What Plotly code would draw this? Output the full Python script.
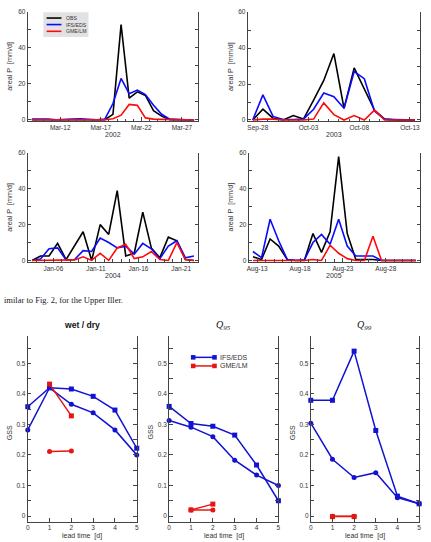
import plotly.graph_objects as go

W, H = 431, 542

# ---------------- data: top (daily areal precipitation, mm/d) ----------------
dates_2002 = [f"2002-03-{d:02d} 12:00" for d in range(8, 29)]
obs_2002 = [0, 0, 0, 0, 0, 0, 0, 0, 0, 0, 3, 53, 12, 15.5, 13.5, 5, 2, 0, 0, 0, 0]
ifs_2002 = [0.3, 0.5, 0.3, 0, 0, 0.3, 0.5, 0.3, 0, 0.3, 9, 23, 14.5, 16.5, 14, 8, 3, 0.3, 0, 0, 0]
gme_2002 = [0, 0, 0, 0, 0, 0, 0, 0, 0, 0, 0.5, 2.5, 8.5, 8, 1, 0.3, 0.2, 0, 0, 0, 0]
ticks_2002 = ["2002-03-12", "2002-03-17", "2002-03-22", "2002-03-27"]

dates_2003 = [f"2003-09-{d:02d} 12:00" for d in range(27, 31)] + [f"2003-10-{d:02d} 12:00" for d in range(1, 14)]
obs_2003 = [0, 6, 1, 0, 2.5, 0.5, 11, 22, 37, 6.5, 29, 17, 5.5, 0.5, 0, 0, 0]
ifs_2003 = [0, 14, 2, 0.3, 0.3, 0.5, 6, 15, 13, 6.5, 27, 23, 5, 0.5, 0.3, 0, 0]
gme_2003 = [0, 0.5, 0.5, 0, 0, 0, 0.5, 9.5, 3, 0, 2.5, 0, 5.5, 0, 0, 0, 0]
ticks_2003 = ["2003-09-28", "2003-10-03", "2003-10-08", "2003-10-13"]

dates_2004 = [f"2004-01-{d:02d} 12:00" for d in range(3, 23)]
obs_2004 = [0, 2.5, 2.5, 9.5, 0.5, 8, 16, 0, 20, 14.5, 39, 2.5, 4, 27, 7, 1.5, 13, 11, 0.5, 0]
ifs_2004 = [0, 0.8, 6.5, 7, 0.3, 0.5, 5.5, 5, 12.5, 10, 7, 8, 3.5, 9.5, 6.5, 1, 8, 11, 1.5, 2.5]
gme_2004 = [0, 0, 0, 0, 0, 0.3, 2, 0, 4, 0, 7, 9, 1, 2, 5, 0.5, 0, 10, 0.5, 0]
ticks_2004 = ["2004-01-06", "2004-01-11", "2004-01-16", "2004-01-21"]

dates_2005 = [f"2005-08-{d:02d} 12:00" for d in range(12, 32)]
obs_2005 = [2, 0.5, 12, 8, 0.5, 0, 0, 15, 4.5, 16, 58, 15, 0.5, 0.5, 0.5, 0, 0, 0, 0, 0]
ifs_2005 = [5, 1.5, 23, 11, 0.5, 0, 0.3, 10, 14.5, 9, 23, 8, 2.5, 2.3, 2.5, 0, 0, 0, 0, 0]
gme_2005 = [0, 0, 0, 0, 0, 0, 0, 0.5, 0, 8.5, 4, 1, 0, 0, 13.5, 0, 0, 0, 0, 0]
ticks_2005 = ["2005-08-13", "2005-08-18", "2005-08-23", "2005-08-28"]

years = ["2002", "2003", "2004", "2005"]
series_names = ["OBS", "IFS/EDS", "GME/LM"]

# ---------------- data: bottom (GSS vs lead time) ----------------
lead = [0, 1, 2, 3, 4, 5]
lead_gme = [1, 2]
wet_ifs_sq = [0.358, 0.42, 0.416, 0.392, 0.347, 0.222]
wet_ifs_ci = [0.282, 0.42, 0.366, 0.338, 0.282, 0.200]
wet_gme_sq = [0.432, 0.328]
wet_gme_ci = [0.211, 0.213]
q95_ifs_sq = [0.359, 0.303, 0.294, 0.265, 0.167, 0.050]
q95_ifs_ci = [0.313, 0.291, 0.260, 0.183, 0.134, 0.100]
q95_gme_sq = [0.020, 0.039]
q95_gme_ci = [0.020, 0.020]
q99_ifs_sq = [0.379, 0.379, 0.540, 0.280, 0.065, 0.040]
q99_ifs_ci = [0.304, 0.186, 0.126, 0.142, 0.060, 0.040]
q99_gme_sq = [-0.002, -0.002]
q99_gme_ci = [-0.001, -0.001]
panel_titles = ["<b>wet / dry</b>", "<i>Q</i><sub><i>95</i></sub>", "<i>Q</i><sub><i>99</i></sub>"]

FONT = "Liberation Sans, Arial, sans-serif"
SERIF = "Liberation Serif, Times New Roman, serif"
AX = "#444444"
TXT = "#333333"
BLACK, BLUE, RED = "#000000", "#0a0aff", "#ff0a0a"
BLUE2, RED2 = "#1212d2", "#e81414"


def xd(a, b):
    return [a / W, b / W]


def yd(top, bottom):
    return [1 - bottom / H, 1 - top / H]


fig = go.Figure()
layout = dict(width=W, height=H, margin=dict(l=0, r=0, t=0, b=0),
              paper_bgcolor="white", plot_bgcolor="white", showlegend=False,
              font=dict(family=FONT, size=6.5, color=TXT))

top_panels = [
    (dates_2002, obs_2002, ifs_2002, gme_2002, ticks_2002, (26, 198), (8, 117), ("2002-03-08", "2002-03-29")),
    (dates_2003, obs_2003, ifs_2003, gme_2003, ticks_2003, (248, 422), (8.3, 117.3), ("2003-09-27", "2003-10-14")),
    (dates_2004, obs_2004, ifs_2004, gme_2004, ticks_2004, (26, 198), (150.7, 259.3), ("2004-01-03", "2004-01-23")),
    (dates_2005, obs_2005, ifs_2005, gme_2005, ticks_2005, (249, 422), (150.7, 259.3), ("2005-08-12", "2005-09-01")),
]

annotations = []
shapes = []
ymin_top = -0.8
for i, (dts, obs, ifs, gme, tks, (xa, xb), (ytop, yzero), rng) in enumerate(top_panels):
    n = i + 1
    sfx = "" if n == 1 else str(n)
    s = (yzero - ytop) / 60.0
    ybot = yzero - ymin_top * s
    for vals, col in ((obs, BLACK), (ifs, BLUE), (gme, RED)):
        fig.add_trace(go.Scatter(x=dts, y=vals, mode="lines", line=dict(color=col, width=1.6),
                                 xaxis="x" + sfx, yaxis="y" + sfx))
    layout["xaxis" + sfx] = dict(domain=xd(xa, xb), range=list(rng), type="date", anchor="y" + sfx,
                                 tickvals=tks, tickformat="%b-%d", ticks="inside", ticklen=4,
                                 tickcolor=AX, showline=True, linecolor=AX, linewidth=1,
                                 showgrid=False, zeroline=False, tickfont=dict(size=6.5, color=TXT),
                                 minor=dict(dtick=86400000, tick0=rng[0], ticks="inside", ticklen=2.5,
                                            tickcolor=AX, showgrid=False))
    layout["yaxis" + sfx] = dict(domain=yd(ytop, ybot), range=[ymin_top, 60], anchor="x" + sfx,
                                 tickvals=[0, 20, 40, 60], ticks="inside", ticklen=3.5, tickcolor=AX,
                                 showline=True, linecolor=AX, linewidth=1, mirror="ticks",
                                 showgrid=False, zeroline=False, tickfont=dict(size=6.5, color=TXT),
                                 minor=dict(tickvals=[10, 30, 50], ticks="inside", ticklen=3.5,
                                            tickcolor=AX, showgrid=False))
    annotations.append(dict(text=years[i], x=((xa + xb) / 2) / W, y=1 - (yzero + 15) / H,
                            xref="paper", yref="paper", showarrow=False, xanchor="center",
                            yanchor="middle", font=dict(size=7, color=TXT, family=FONT)))
    annotations.append(dict(text="areal P\u00a0 [mm/d]", x=(xa - 18) / W, y=1 - ((ytop + yzero) / 2) / H,
                            xref="paper", yref="paper", showarrow=False, textangle=-90,
                            xanchor="center", yanchor="middle", font=dict(size=7.2, color=TXT, family=FONT)))

# top legend key box
shapes.append(dict(type="rect", xref="paper", yref="paper", x0=41.7 / W, x1=87.3 / W,
                   y0=1 - 33.3 / H, y1=1 - 8.3 / H, fillcolor="#e2e2e2", line=dict(width=0), layer="above"))
for name, col, yy in zip(series_names, (BLACK, BLUE, RED), (14.2, 20.8, 27.6)):
    shapes.append(dict(type="line", xref="paper", yref="paper", x0=45 / W, x1=60 / W,
                       y0=1 - yy / H, y1=1 - yy / H, line=dict(color=col, width=1.6), layer="above"))
    annotations.append(dict(text=name, x=63 / W, y=1 - yy / H, xref="paper", yref="paper",
                            showarrow=False, xanchor="left", yanchor="middle",
                            font=dict(size=5.2, color=TXT, family=FONT)))

# caption
annotations.append(dict(text="imilar to Fig. 2, for the Upper Iller.", x=0, y=1 - 299 / H,
                        xref="paper", yref="paper", showarrow=False, xanchor="left", yanchor="middle",
                        font=dict(size=8.5, color="#222222", family=SERIF)))

# ---------------- bottom panels ----------------
bottom = [
    (wet_ifs_sq, wet_ifs_ci, wet_gme_sq, wet_gme_ci, (26, 136)),
    (q95_ifs_sq, q95_ifs_ci, q95_gme_sq, q95_gme_ci, (168.7, 279)),
    (q99_ifs_sq, q99_ifs_ci, q99_gme_sq, q99_gme_ci, (311.7, 421)),
]
ytop_b, ybot_b = 336.2, 523.3
for j, (isq, ici, gsq, gci, (xa, xb)) in enumerate(bottom):
    n = 5 + j
    sfx = str(n)
    for xs, ys, col, sym in ((lead, isq, BLUE2, "square"), (lead, ici, BLUE2, "circle"),
                             (lead_gme, gsq, RED2, "square"), (lead_gme, gci, RED2, "circle")):
        fig.add_trace(go.Scatter(x=xs, y=ys, mode="lines+markers", cliponaxis=False,
                                 line=dict(color=col, width=1.5),
                                 marker=dict(symbol=sym, size=5, color=col, line=dict(width=0)),
                                 xaxis="x" + sfx, yaxis="y" + sfx))
    layout["xaxis" + sfx] = dict(domain=xd(xa, xb), range=[0, 5], anchor="y" + sfx,
                                 tickvals=lead, ticks="inside", ticklen=4, tickcolor=AX,
                                 showline=True, linecolor=AX, linewidth=1, showgrid=False,
                                 zeroline=False, tickfont=dict(size=6.5, color=TXT))
    layout["yaxis" + sfx] = dict(domain=yd(ytop_b, ybot_b), range=[-0.018, 0.588], anchor="x" + sfx,
                                 tickvals=[0, 0.1, 0.2, 0.3, 0.4, 0.5], ticktext=["0", "0.1", "0.2", "0.3", "0.4", "0.5"],
                                 ticks="inside", ticklen=3.5, tickcolor=AX,
                                 showline=True, linecolor=AX, linewidth=1, mirror="ticks",
                                 showgrid=False, zeroline=False, tickfont=dict(size=6.5, color=TXT),
                                 minor=dict(tickvals=[0.05, 0.15, 0.25, 0.35, 0.45, 0.55], ticks="inside",
                                            ticklen=3.5, tickcolor=AX, showgrid=False))
    cx = ((xa + xb) / 2) / W
    tfont = dict(size=8.6, color="#111111", family=FONT) if j == 0 else dict(size=10, color="#111111", family=SERIF)
    annotations.append(dict(text=panel_titles[j], x=cx, y=1 - 325 / H, xref="paper", yref="paper",
                            showarrow=False, xanchor="center", yanchor="middle", font=tfont))
    annotations.append(dict(text="lead time\u00a0 [d]", x=cx, y=1 - 537.5 / H, xref="paper", yref="paper",
                            showarrow=False, xanchor="center", yanchor="middle",
                            font=dict(size=7, color=TXT, family=FONT)))
    annotations.append(dict(text="GSS", x=(xa - 19) / W, y=1 - 433 / H, xref="paper", yref="paper",
                            showarrow=False, textangle=-90, xanchor="center", yanchor="middle",
                            font=dict(size=7, color=TXT, family=FONT)))

# bottom legend key (in Q95 panel)
for name, col, yy in ((series_names[1], BLUE2, 357.3), (series_names[2], RED2, 366.0)):
    shapes.append(dict(type="line", xref="paper", yref="paper", x0=193 / W, x1=214.5 / W,
                       y0=1 - yy / H, y1=1 - yy / H, line=dict(color=col, width=1.5), layer="above"))
    for cxp in (193, 214.5):
        shapes.append(dict(type="rect", xref="paper", yref="paper", x0=(cxp - 2.3) / W, x1=(cxp + 2.3) / W,
                           y0=1 - (yy + 2.3) / H, y1=1 - (yy - 2.3) / H, fillcolor=col,
                           line=dict(width=0), layer="above"))
    annotations.append(dict(text=name, x=218 / W, y=1 - yy / H, xref="paper", yref="paper",
                            showarrow=False, xanchor="left", yanchor="middle",
                            font=dict(size=7, color=TXT, family=FONT)))

layout["annotations"] = annotations
layout["shapes"] = shapes
fig.update_layout(**layout)
fig.write_html("out.html")
